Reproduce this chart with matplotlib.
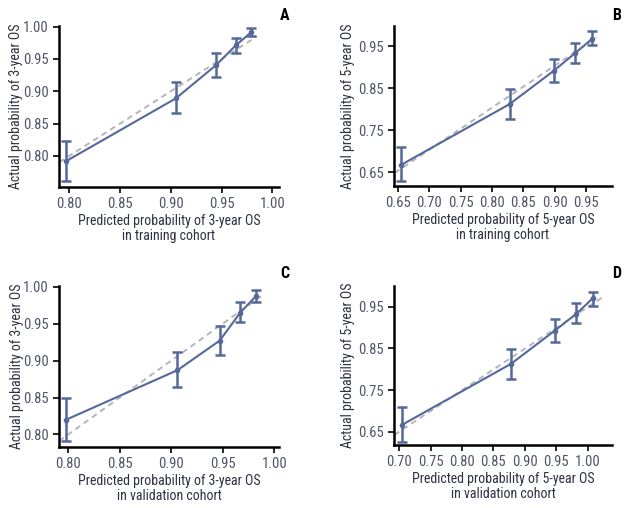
import matplotlib
matplotlib.use("Agg")
import matplotlib.pyplot as plt

plt.rcParams["font.family"] = ["Roboto Condensed", "Archivo Narrow", "PT Sans Narrow",
                               "Liberation Sans", "DejaVu Sans"]

LINE_COLOR = "#55689a"
REF_COLOR = "#b4b4bc"
TICK_COLOR = "#505569"
LABEL_COLOR = "#2e3142"

# Panel A: 3-year OS, training cohort
a_pred = [0.797, 0.905, 0.945, 0.964, 0.979]
a_obs = [0.792, 0.889, 0.941, 0.971, 0.991]
a_lo = [0.762, 0.866, 0.922, 0.959, 0.985]
a_hi = [0.823, 0.914, 0.959, 0.983, 0.998]
a_ref_x = [0.790, 0.985]
a_ref_y = [0.790, 0.985]

# Panel B: 5-year OS, training cohort
b_pred = [0.655, 0.828, 0.898, 0.932, 0.959]
b_obs = [0.667, 0.812, 0.891, 0.933, 0.967]
b_lo = [0.628, 0.776, 0.864, 0.911, 0.953]
b_hi = [0.711, 0.848, 0.920, 0.958, 0.985]
b_ref_x = [0.645, 0.967]
b_ref_y = [0.648, 0.971]

# Panel C: 3-year OS, validation cohort
c_pred = [0.798, 0.906, 0.947, 0.967, 0.982]
c_obs = [0.820, 0.887, 0.927, 0.965, 0.987]
c_lo = [0.791, 0.864, 0.908, 0.952, 0.980]
c_hi = [0.850, 0.912, 0.947, 0.980, 0.996]
c_ref_x = [0.791, 0.990]
c_ref_y = [0.791, 0.990]

# Panel D: 5-year OS, validation cohort
d_pred = [0.705, 0.878, 0.948, 0.982, 1.008]
d_obs = [0.667, 0.813, 0.893, 0.933, 0.970]
d_lo = [0.626, 0.777, 0.866, 0.911, 0.953]
d_hi = [0.710, 0.849, 0.921, 0.958, 0.986]
d_ref_x = [0.692, 1.025]
d_ref_y = [0.642, 0.974]

x_ticks_3y = [0.80, 0.85, 0.90, 0.95, 1.00]
y_ticks_3y = [0.80, 0.85, 0.90, 0.95, 1.00]
x_ticks_b = [0.65, 0.70, 0.75, 0.80, 0.85, 0.90, 0.95]
x_ticks_d = [0.70, 0.75, 0.80, 0.85, 0.90, 0.95, 1.00]
y_ticks_5y = [0.65, 0.75, 0.85, 0.95]

# letter, axes box (px), data..., ylabel x (px), letter pos (px)
panels = [
    ("A", [59, 26, 279, 187], a_pred, a_obs, a_lo, a_hi, a_ref_x, a_ref_y,
     x_ticks_3y, y_ticks_3y, (0.790, 1.0066), (0.752, 1.001), "3", "training", 16, (285, 15)),
    ("B", [394, 26, 612, 186], b_pred, b_obs, b_lo, b_hi, b_ref_x, b_ref_y,
     x_ticks_b, y_ticks_5y, (0.644, 0.991), (0.617, 0.998), "5", "training", 348, (617, 15)),
    ("C", [59, 286, 279, 447], c_pred, c_obs, c_lo, c_hi, c_ref_x, c_ref_y,
     x_ticks_3y, y_ticks_3y, (0.791, 1.0046), (0.783, 1.001), "3", "validation", 17, (285, 274)),
    ("D", [394, 286, 612, 445], d_pred, d_obs, d_lo, d_hi, d_ref_x, d_ref_y,
     x_ticks_d, y_ticks_5y, (0.6915, 1.039), (0.618, 1.000), "5", "validation", 348, (617, 274)),
]

W, H = 634, 508
fig = plt.figure(figsize=(W / 100, H / 100), dpi=100)

for (letter, box, px, py, lo, hi, rx, ry, xt, yt, xl, yl, yr, cohort, ylx, lpos) in panels:
    x0, y0, x1, y1 = box
    ax = fig.add_axes([x0 / W, 1 - y1 / H, (x1 - x0) / W, (y1 - y0) / H])

    # ideal calibration line
    ax.plot(rx, ry, linestyle=(0, (3, 2.2)), color=REF_COLOR, lw=1.4, zorder=1)
    yerr = [[o - l for o, l in zip(py, lo)], [h - o for o, h in zip(py, hi)]]
    ax.errorbar(px, py, yerr=yerr, color=LINE_COLOR, lw=1.5, elinewidth=1.8,
                capsize=3.5, capthick=1.8, marker="o", markersize=3, zorder=2)

    ax.set_xlim(*xl)
    ax.set_ylim(*yl)
    ax.set_xticks(xt)
    ax.set_yticks(yt)
    ax.set_xticklabels([f"{v:.2f}" for v in xt])
    ax.set_yticklabels([f"{v:.2f}" for v in yt])

    for s in ["top", "right"]:
        ax.spines[s].set_visible(False)
    for s in ["left", "bottom"]:
        ax.spines[s].set_linewidth(1.8)
        ax.spines[s].set_color("black")
    ax.tick_params(direction="out", length=4.5, width=1.2, color="black",
                   labelcolor=TICK_COLOR, labelsize=10.5, pad=3)

    ax.set_xlabel(f"Predicted probability of {yr}-year OS\nin {cohort} cohort",
                  fontsize=10, color=LABEL_COLOR, linespacing=1.05, labelpad=2)
    ax.set_ylabel(f"Actual probability of {yr}-year OS",
                  fontsize=10, color=LABEL_COLOR)
    ax.yaxis.label.set_va("center")
    ax.yaxis.set_label_coords(ylx / W, 1 - (y0 + y1) / 2 / H, transform=fig.transFigure)

    fig.text(lpos[0] / W, 1 - lpos[1] / H, letter, fontsize=11.5,
             fontweight="bold", ha="center", va="center")

fig.savefig("out.png", dpi=100)
